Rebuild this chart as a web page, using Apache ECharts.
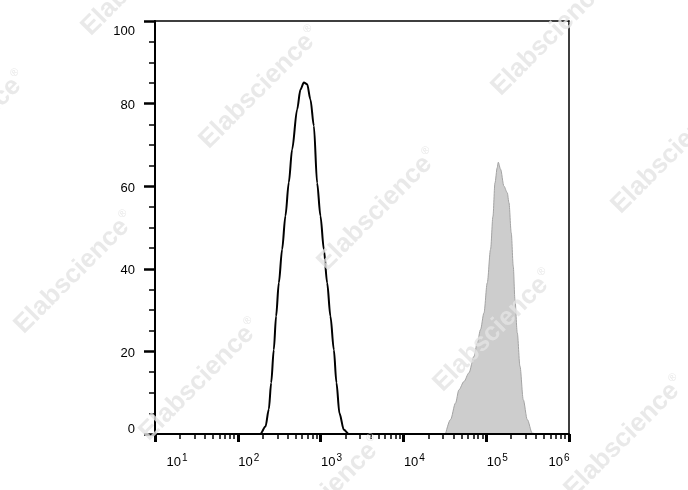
<!DOCTYPE html>
<html>
<head>
<meta charset="utf-8">
<script src="https://cdn.jsdelivr.net/npm/echarts@6/dist/echarts.min.js"></script>
<style>
html,body{margin:0;padding:0;background:#fff;}
#chart{width:688px;height:490px;}
</style>
</head>
<body>
<div id="chart"></div>
<script>
// ---- data ----
// black (unstained / isotype) histogram: intensity (log scale) vs count
const blackX = [10, 187, 216, 237, 253, 272, 290, 313, 343, 376, 413, 453, 521, 571, 628, 688, 754, 829, 908, 996, 1095, 1200, 1315, 1445, 1554, 1690, 1910, 2190, 1000000];
const blackY = [0, 0, 1.8, 6, 12.4, 20.4, 28.5, 36.6, 44.7, 52.8, 60.9, 68.9, 78.6, 83.4, 85.1, 84.7, 81, 74.6, 60.8, 52.8, 44.7, 36.6, 28.5, 20.4, 12.4, 5.0, 1.0, 0, 0];
// grey (stained) histogram
const grayX = [32280, 37090, 42620, 46850, 53840, 61870, 71120, 77960, 85450, 93930, 102970, 112880, 120650, 127560, 135980, 139820, 149110, 163870, 179700, 188320, 200740, 212310, 222590, 237270, 255800, 280430, 313400, 360200, 394900];
const grayY = [0, 3.5, 7.5, 10.7, 12.7, 14.8, 18.8, 22, 25.3, 29.3, 36.6, 44.7, 52.7, 60.8, 64.5, 65.8, 64.1, 60, 58.4, 56, 48.7, 40.6, 32.5, 24.5, 16.4, 8.3, 3.5, 0.2, 0];
// axis ticks / labels
const xMajorTicks = [10, 100, 1000, 10000, 100000, 1000000];
const xMinorMult = [2, 3, 4, 5, 6, 7, 8, 9];
const yTicks = [0, 20, 40, 60, 80, 100];
const watermarkText = 'Elabscience';

const xMinorTicks = [];
xMajorTicks.slice(0, -1).forEach(d => xMinorMult.forEach(m => xMinorTicks.push(d * m)));

const chart = echarts.init(document.getElementById('chart'), null, {renderer: 'canvas'});

const wmPos = [[142,-25],[-33,132],[260,88],[552,35],[378,210],[672,153],[75,273],[494,331],[200,380],[625,437],[323,497]];
const graphics = wmPos.map(p => ({
  type: 'text', x: p[0], y: p[1], rotation: Math.PI / 4, z: 100, silent: true,
  style: {
    text: '{a|' + watermarkText + '}{r|®}',
    align: 'center', verticalAlign: 'middle',
    rich: {
      a: {font: 'bold 26px "Liberation Sans", Arial, sans-serif', fill: 'rgba(228,228,228,0.8)'},
      r: {font: '11px "Liberation Sans", Arial, sans-serif', fill: 'rgba(228,228,228,0.8)', padding: [0,0,16,1]}
    }
  }
}));

const font = '"Liberation Sans", Arial, sans-serif';

chart.setOption({
  animation: false,
  backgroundColor: '#fff',
  grid: {left: 155, right: 119, top: 21, bottom: 56, containLabel: false, outerBoundsMode: 'none',
         show: true, borderColor: '#000', borderWidth: 1.5, backgroundColor: 'transparent'},
  xAxis: [
    {
      type: 'log', logBase: 10, min: 10, max: 1000000, position: 'bottom',
      axisLine: {show: true, lineStyle: {color: '#000', width: 2}},
      axisTick: {show: true, customValues: xMajorTicks, length: 8, lineStyle: {color: '#000', width: 3}},
      minorTick: {show: false},
      splitLine: {show: false},
      axisLabel: {
        show: true, customValues: xMajorTicks, margin: 19, color: '#000',
        formatter: function (v) {
          const e = Math.round(Math.log10(v));
          if (e === 1) return '{b1|10}{s|' + e + '}';
          if (e === 6) return '{bm|10}{s|' + e + '}{p| }';
          return '{bm|10}{s|' + e + '}';
        },
        rich: {
          b1: {fontFamily: font, fontSize: 13, color: '#000', padding: [0,0,0,44]},
          bm: {fontFamily: font, fontSize: 13, color: '#000', padding: [0,0,0,22]},
          s: {fontFamily: font, fontSize: 10, color: '#000', padding: [0,0,9,1]},
          p: {fontFamily: font, fontSize: 10, width: 42}
        }
      }
    },
    {
      type: 'log', logBase: 10, min: 10, max: 1000000, position: 'bottom', gridIndex: 0,
      axisLine: {show: false},
      axisTick: {show: true, customValues: xMinorTicks, length: 5, lineStyle: {color: '#000', width: 1.5}},
      axisLabel: {show: false},
      splitLine: {show: false}
    }
  ],
  yAxis: {
    type: 'value', min: 0, max: 100, interval: 20,
    axisLine: {show: true, lineStyle: {color: '#000', width: 2}},
    axisTick: {show: true, length: 11, lineStyle: {color: '#000', width: 2.5}},
    minorTick: {show: true, splitNumber: 4, length: 6, lineStyle: {color: '#000', width: 1.5}},
    splitLine: {show: false},
    axisLabel: {
      margin: 20, color: '#000',
      formatter: function (v) {
        if (v === 100) return '{t|' + v + '}';
        if (v === 0) return '{z|' + v + '}';
        return '{m|' + v + '}';
      },
      rich: {
        t: {fontFamily: font, fontSize: 13, color: '#000', padding: [20,0,0,0]},
        z: {fontFamily: font, fontSize: 13, color: '#000', padding: [0,0,10,0]},
        m: {fontFamily: font, fontSize: 13, color: '#000', padding: [4,0,0,0]}
      }
    }
  },
  graphic: graphics,
  series: [
    {
      type: 'line', xAxisIndex: 0, data: grayX.map((x, i) => [x, grayY[i]]),
      smooth: 0.3, smoothMonotone: 'x', showSymbol: false, symbol: 'none',
      lineStyle: {color: '#a3a3a3', width: 1},
      areaStyle: {color: '#cdcdcd', opacity: 1},
      z: 2
    },
    {
      type: 'line', xAxisIndex: 0, data: blackX.map((x, i) => [x, blackY[i]]),
      smooth: 0.3, smoothMonotone: 'x', showSymbol: false, symbol: 'none',
      lineStyle: {color: '#000', width: 2},
      z: 3
    }
  ]
});
</script>
</body>
</html>
